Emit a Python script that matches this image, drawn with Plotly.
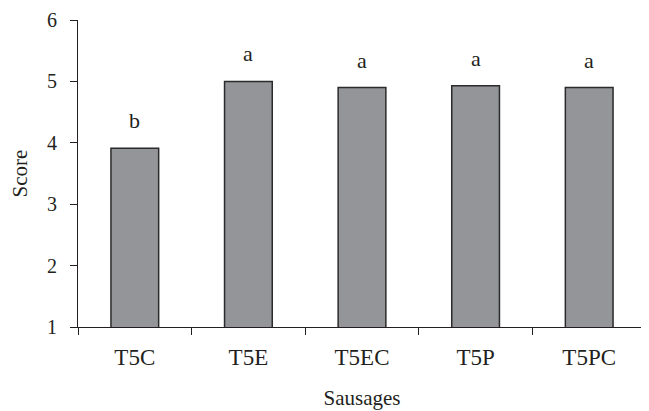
import plotly.graph_objects as go

categories = ["T5C", "T5E", "T5EC", "T5P", "T5PC"]
scores = [3.91, 5.0, 4.9, 4.93, 4.9]
letters = ["b", "a", "a", "a", "a"]

font = "Liberation Serif, DejaVu Serif, serif"
ink = "#231f20"

fig = go.Figure()
fig.add_trace(go.Bar(
    x=categories, y=scores, width=0.42,
    marker=dict(color="#939598", line=dict(color="#2b2b2b", width=1.5)),
))

for c, s, t in zip(categories, scores, letters):
    fig.add_annotation(
        x=c, y=s, text=t, showarrow=False,
        yanchor="bottom", yshift=13,
        font=dict(family=font, size=22, color=ink),
    )

# page body has an 8px margin in the browser, so the figure is sized to fit
fig.update_layout(
    width=641, height=403,
    margin=dict(l=70, r=3, t=12, b=84),
    paper_bgcolor="white", plot_bgcolor="white",
    showlegend=False,
    font=dict(family=font, size=20, color=ink),
)
fig.update_xaxes(
    showline=True, linecolor=ink, linewidth=1.2,
    ticks="outside", ticklen=7, tickcolor=ink, tickwidth=1.2,
    tickson="boundaries", showgrid=False, automargin=False,
    tickfont=dict(size=23), ticklabelstandoff=9,
    title=dict(text="Sausages", font=dict(size=21), standoff=21),
)
fig.update_yaxes(
    range=[1, 6], dtick=1, tick0=1,
    showline=True, linecolor=ink, linewidth=1.2,
    ticks="outside", ticklen=7, tickcolor=ink, tickwidth=1.2,
    showgrid=False, zeroline=False, automargin=False,
    tickfont=dict(size=20), ticklabelstandoff=9,
    title=dict(text="Score", font=dict(size=21), standoff=14),
)

fig.write_html("out.html")
